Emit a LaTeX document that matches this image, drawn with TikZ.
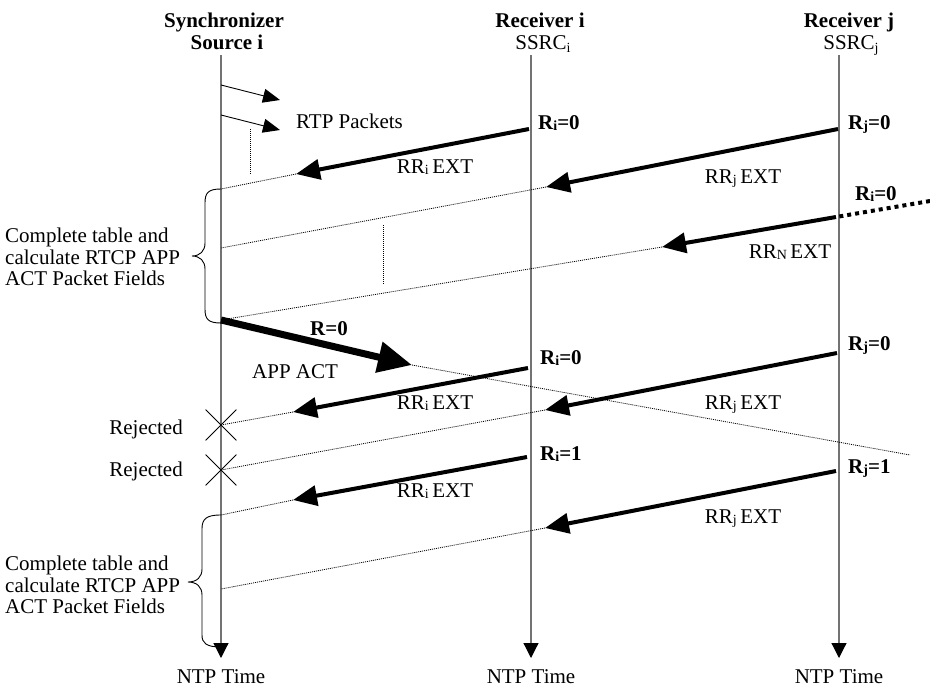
\documentclass[tikz,border=0pt]{standalone}
\usepackage{fontspec}
\setmainfont{Liberation Serif}
\usetikzlibrary{arrows.meta,shapes.misc}
\newcommand{\lowsub}[2][2pt]{\raisebox{-#1}{\fontsize{14}{14}\selectfont #2}}
\begin{document}
\begin{tikzpicture}[x=1pt,y=-1pt,
  lbl/.style={inner sep=0pt, font=\fontsize{21}{21.5}\selectfont, anchor=base},
  blbl/.style={lbl, font=\fontsize{21}{21.5}\selectfont\bfseries},
  blockl/.style={inner sep=0pt, font=\fontsize{21}{21.5}\selectfont, align=left, anchor=west},
  lifeline/.style={draw=black!55, line width=1.2pt, -{Triangle[length=15pt,width=15pt,color=black]}},
  rtp/.style={line width=0.9pt, -{Triangle[length=17pt,width=14pt]}},
  msg/.style={line width=4pt, -{Triangle[length=24pt,width=20pt]}},
  bigmsg/.style={line width=7pt, -{Triangle[length=34pt,width=30pt]}},
  fine/.style={line width=0.8pt, dash pattern=on 1pt off 1pt},
  fatdots/.style={line width=4pt, dash pattern=on 4pt off 4pt},
  xmark/.style={draw, cross out, line width=0.8pt, minimum width=30pt, minimum height=30pt, inner sep=0pt},
  bracepath/.style={line width=0.9pt}
]
\fill[white] (0,0) rectangle (930,686);
\useasboundingbox (0,0) rectangle (930,686);

% headers
\node[blbl] (hS1) at (224,27) {Synchronizer};
\node[blbl] (hS2) at (227,49) {Source i};
\node[blbl] (hRi1) at (540,27) {Receiver i};
\node[lbl]  (hRi2) at (543,49) {SSRC\lowsub[3pt]{i}};
\node[blbl] (hRj1) at (849,27) {Receiver j};
\node[lbl]  (hRj2) at (851,49) {SSRC\lowsub[3pt]{j}};

% lifelines
\coordinate (S0) at (221,55);  \coordinate (S1) at (221,658);
\coordinate (I0) at (531,55);  \coordinate (I1) at (531,658);
\coordinate (J0) at (839,55);  \coordinate (J1) at (839,658);
\draw[lifeline] (S0) -- (S1);
\draw[lifeline] (I0) -- (I1);
\draw[lifeline] (J0) -- (J1);
\node[lbl] (tS) at (221,683) {NTP Time};
\node[lbl] (tI) at (531,683) {NTP Time};
\node[lbl] (tJ) at (839,683) {NTP Time};

% RTP packets
\coordinate (p1s) at (221,85);  \coordinate (p1t) at (280,100);
\coordinate (p2s) at (221,115); \coordinate (p2t) at (280,130);
\draw[rtp] (p1s) -- (p1t);
\draw[rtp] (p2s) -- (p2t);
\node[lbl, anchor=base west] (rtp) at (296,128) {RTP Packets};
\coordinate (v1a) at (250,129); \coordinate (v1b) at (250,174);
\draw[fine] (v1a) -- (v1b);

% R_i = 0 (first)
\coordinate (a1s) at (529,129); \coordinate (a1t) at (296,174); \coordinate (a1e) at (221,189);
\draw[msg] (a1s) -- (a1t);
\draw[fine] (a1t) -- (a1e);
\node[blbl, anchor=base west] (ri0a) at (538,129) {R\lowsub[1pt]{i}=0};
\node[lbl] (rria) at (435,173) {RR\lowsub[1pt]{i}\,EXT};

% R_j = 0 (first)
\coordinate (b1s) at (838,129); \coordinate (b1t) at (546,187); \coordinate (b1e) at (221,248);
\draw[msg] (b1s) -- (b1t);
\draw[fine] (b1t) -- (b1e);
\node[blbl, anchor=base west] (rj0a) at (848,129) {R\lowsub[1pt]{j}=0};
\node[lbl] (rrja) at (743,183) {RR\lowsub[1pt]{j}\,EXT};

% R_i = 0 from further receivers
\coordinate (c1o) at (930,201); \coordinate (c1s) at (836,217); \coordinate (c1t) at (662,247); \coordinate (c1e) at (221,320);
\draw[fatdots] (c1o) -- (c1s);
\draw[msg] (c1s) -- (c1t);
\draw[fine] (c1t) -- (c1e);
\node[blbl, anchor=base west] (ri0b) at (855,200) {R\lowsub[1pt]{i}=0};
\node[lbl] (rrn) at (790,258) {RR\lowsub[1pt]{N}\,EXT};
\coordinate (v2a) at (383,225); \coordinate (v2b) at (383,285);
\draw[fine] (v2a) -- (v2b);

% brace 1
\draw[bracepath] (a1e) .. controls (208,189) and (205,193) .. (205,203) -- (205,243)
  .. controls (205,251) and (200,256) .. (192,256)
  .. controls (200,256) and (205,261) .. (205,269) -- (205,309)
  .. controls (205,319) and (208,323) .. (221,323);
\node[blockl] (blk1) at (5,257) {Complete table and\\calculate RTCP APP\\ACT Packet Fields};

% R = 0 APP ACT
\coordinate (d1s) at (221,320); \coordinate (d1t) at (412,365); \coordinate (d1e) at (910,455);
\draw[bigmsg] (d1s) -- (d1t);
\draw[fine] (d1t) -- (d1e);
\node[blbl, anchor=base west] (r0) at (310,335) {R=0};
\node[lbl, anchor=base west] (appact) at (252,378) {APP ACT};

% R_i = 0 (second)
\coordinate (a2s) at (528,368); \coordinate (a2t) at (293,412);
\node[xmark] (x1) at (221,425) {};
\draw[msg] (a2s) -- (a2t);
\draw[fine] (a2t) -- (x1.center);
\node[blbl, anchor=base west] (ri0c) at (540,364) {R\lowsub[1pt]{i}=0};
\node[lbl] (rrib) at (435,409) {RR\lowsub[1pt]{i}\,EXT};
\node[lbl, anchor=base east] (rej1) at (183,434) {Rejected};

% R_j = 0 (second)
\coordinate (b2s) at (837,353); \coordinate (b2t) at (545,410);
\node[xmark] (x2) at (221,470) {};
\draw[msg] (b2s) -- (b2t);
\draw[fine] (b2t) -- (x2.center);
\node[blbl, anchor=base west] (rj0b) at (848,350) {R\lowsub[1pt]{j}=0};
\node[lbl] (rrjb) at (743,409) {RR\lowsub[1pt]{j}\,EXT};
\node[lbl, anchor=base east] (rej2) at (183,476) {Rejected};

% R_i = 1
\coordinate (a3s) at (527,457); \coordinate (a3t) at (293,500); \coordinate (a3e) at (221,515);
\draw[msg] (a3s) -- (a3t);
\draw[fine] (a3t) -- (a3e);
\node[blbl, anchor=base west] (ri1) at (540,460) {R\lowsub[1pt]{i}=1};
\node[lbl] (rric) at (435,497) {RR\lowsub[1pt]{i}\,EXT};

% R_j = 1
\coordinate (b3s) at (836,471); \coordinate (b3t) at (545,528); \coordinate (b3e) at (221,589);
\draw[msg] (b3s) -- (b3t);
\draw[fine] (b3t) -- (b3e);
\node[blbl, anchor=base west] (rj1) at (848,473) {R\lowsub[1pt]{j}=1};
\node[lbl] (rrjc) at (743,523) {RR\lowsub[1pt]{j}\,EXT};

% brace 2
\draw[bracepath] (a3e) .. controls (206,515) and (202,519) .. (202,529) -- (202,569)
  .. controls (202,577) and (197,582) .. (188,582)
  .. controls (197,582) and (202,587) .. (202,595) -- (202,635)
  .. controls (202,643) and (206,647) .. (221,647);
\node[blockl] (blk2) at (5,585) {Complete table and\\calculate RTCP APP\\ACT Packet Fields};
\end{tikzpicture}
\end{document}
